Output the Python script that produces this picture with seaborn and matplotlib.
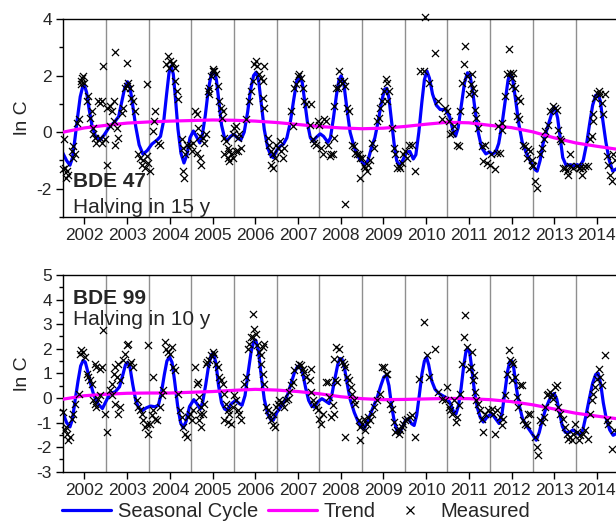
import matplotlib
matplotlib.use("Agg")
import matplotlib.pyplot as plt
from matplotlib.lines import Line2D
from matplotlib.ticker import MultipleLocator
import numpy as np
import pandas as pd
import seaborn as sns

# ---------------------------------------------------------------- data
years = [2002, 2003, 2004, 2005, 2006, 2007, 2008, 2009, 2010, 2011, 2012, 2013, 2014]
year_labels = [str(y) for y in years]

# BDE 47 : fitted seasonal cycle (time in decimal years, ln C)
season47_t = [2001.49, 2001.58, 2001.66, 2001.72, 2001.78, 2001.84, 2001.90, 2001.96, 2002.00, 2002.05,
              2002.11, 2002.18, 2002.26, 2002.36, 2002.46, 2002.58, 2002.70, 2002.80, 2002.87, 2002.94,
              2003.01, 2003.07, 2003.13, 2003.20, 2003.28, 2003.37, 2003.47, 2003.58, 2003.70, 2003.78,
              2003.86, 2003.92, 2003.98, 2004.03, 2004.08, 2004.13, 2004.19, 2004.26, 2004.33, 2004.40,
              2004.47, 2004.55, 2004.62, 2004.70, 2004.76, 2004.83, 2004.90, 2004.97, 2005.03, 2005.09,
              2005.15, 2005.21, 2005.28, 2005.34, 2005.42, 2005.50, 2005.58, 2005.66, 2005.74, 2005.82,
              2005.89, 2005.96, 2006.02, 2006.08, 2006.14, 2006.21, 2006.29, 2006.37, 2006.42, 2006.50,
              2006.58, 2006.66, 2006.74, 2006.82, 2006.90, 2006.97, 2007.04, 2007.10, 2007.16, 2007.23,
              2007.29, 2007.35, 2007.43, 2007.52, 2007.60, 2007.70, 2007.76, 2007.83, 2007.90, 2007.96,
              2008.01, 2008.07, 2008.14, 2008.22, 2008.32, 2008.44, 2008.56, 2008.64, 2008.72, 2008.80,
              2008.88, 2008.96, 2009.03, 2009.08, 2009.13, 2009.19, 2009.25, 2009.31, 2009.37, 2009.45,
              2009.55, 2009.62, 2009.70, 2009.76, 2009.83, 2009.90, 2009.96, 2010.02, 2010.08, 2010.15,
              2010.24, 2010.33, 2010.45, 2010.55, 2010.63, 2010.69, 2010.75, 2010.82, 2010.90, 2010.97,
              2011.03, 2011.09, 2011.15, 2011.22, 2011.30, 2011.40, 2011.48, 2011.55, 2011.63, 2011.70,
              2011.78, 2011.86, 2011.92, 2011.97, 2012.03, 2012.10, 2012.17, 2012.25, 2012.35, 2012.45,
              2012.55, 2012.60, 2012.67, 2012.74, 2012.82, 2012.90, 2012.97, 2013.02, 2013.08, 2013.14,
              2013.20, 2013.28, 2013.38, 2013.46, 2013.54, 2013.60, 2013.68, 2013.76, 2013.83, 2013.90,
              2013.97, 2014.03, 2014.08, 2014.14, 2014.21, 2014.29, 2014.37, 2014.45]
season47_v = [-0.73, -1.00, -1.17, -0.90, -0.20, 0.55, 1.25, 1.62, 1.65, 1.40,
              0.80, 0.20, -0.15, -0.28, -0.10, 0.18, 0.35, 0.55, 1.05, 1.55,
              1.78, 1.55, 0.95, 0.20, -0.45, -0.78, -0.65, -0.42, -0.28, -0.15,
              0.45, 1.30, 2.10, 2.34, 2.05, 1.20, 0.10, -0.75, -1.09, -0.80,
              -0.20, 0.04, -0.15, -0.38, -0.10, 0.60, 1.50, 2.05, 2.18, 1.85,
              1.05, 0.25, -0.20, -0.30, -0.15, -0.08, -0.20, -0.28, 0.00, 0.70,
              1.50, 2.00, 2.12, 1.80, 1.00, 0.10, -0.55, -0.85, -0.90, -0.65,
              -0.50, -0.42, -0.20, 0.35, 1.15, 1.80, 2.00, 1.75, 1.05, 0.25,
              -0.20, -0.32, -0.18, -0.06, -0.15, -0.36, -0.20, 0.50, 1.30, 1.85,
              1.99, 1.75, 0.90, 0.00, -0.55, -0.95, -1.15, -1.00, -0.55, -0.20,
              0.40, 1.10, 1.52, 1.55, 1.20, 0.40, -0.40, -1.00, -1.20, -1.00,
              -0.70, -0.68, -0.95, -0.80, 0.00, 1.05, 1.85, 2.16, 1.90, 1.35,
              0.95, 0.80, 0.80, 0.55, 0.05, -0.14, 0.15, 0.90, 1.75, 2.10,
              2.00, 1.45, 0.75, 0.00, -0.55, -0.77, -0.70, -0.78, -0.70, -0.40,
              0.30, 1.20, 1.85, 2.07, 1.85, 1.10, 0.30, -0.35, -0.75, -1.05,
              -1.32, -1.38, -1.00, -0.40, 0.05, 0.45, 0.80, 0.86, 0.50, -0.20,
              -0.90, -1.18, -1.15, -1.20, -1.15, -1.20, -1.00, -0.40, 0.30, 0.95,
              1.30, 1.34, 1.10, 0.40, -0.35, -1.00, -1.38, -1.30]

trend_t = [2001.5, 2002.0, 2002.5, 2003.0, 2003.5, 2004.0, 2004.5, 2005.0, 2005.5, 2006.0,
           2006.5, 2007.0, 2007.5, 2008.0, 2008.5, 2009.0, 2009.5, 2010.0, 2010.5, 2011.0,
           2011.5, 2012.0, 2012.5, 2013.0, 2013.5, 2014.0, 2014.45]
trend47_v = [0.00, 0.15, 0.24, 0.32, 0.36, 0.39, 0.41, 0.43, 0.42, 0.39,
             0.34, 0.27, 0.20, 0.15, 0.12, 0.14, 0.20, 0.28, 0.35, 0.33,
             0.24, 0.16, 0.01, -0.20, -0.38, -0.50, -0.60]

meas47 = [
    (2001.52, -0.26), (2001.54, -1.26), (2001.58, -1.38), (2001.62, -1.50), (2001.57, -1.62),
    (2001.50, -1.32), (2001.70, -0.67), (2001.74, -0.50), (2001.78, -0.79), (2001.72, -0.91),
    (2001.82, 0.33), (2001.86, 0.45), (2001.91, 1.81), (2001.94, 1.93), (2001.97, 1.99),
    (2001.99, 1.75), (2001.93, 1.69), (2002.09, 1.28), (2002.05, 1.10), (2002.17, 0.74),
    (2002.13, 0.51), (2002.21, 0.15), (2002.25, -0.20), (2002.28, -0.38), (2002.21, -0.08),
    (2002.32, 1.10), (2002.36, 1.04), (2002.40, 1.10), (2002.44, 2.34), (2002.40, -0.38),
    (2002.36, -0.20), (2002.48, -0.26), (2002.52, -1.15), (2002.52, 0.86), (2002.60, 0.92),
    (2002.64, 0.74), (2002.68, 1.10), (2002.71, 2.85), (2002.60, 0.21), (2002.68, 0.39),
    (2002.75, 0.15), (2002.79, -0.20), (2002.71, -0.44), (2002.87, 0.69), (2002.91, 0.86),
    (2002.95, 1.57), (2002.99, 1.63), (2003.03, 1.75), (2003.07, 1.57), (2002.99, 2.46),
    (2003.10, 1.22), (2003.14, 1.10), (2003.18, 0.74), (2003.26, -0.79), (2003.30, -0.91),
    (2003.38, -0.97), (2003.34, -1.15), (2003.42, -1.26), (2003.46, -0.85), (2003.53, -1.38),
    (2003.49, -1.09), (2003.47, 1.69), (2003.63, 0.39), (2003.65, 0.74), (2003.61, 0.04),
    (2003.73, -0.38), (2003.77, -0.44), (2003.96, 2.70), (2004.00, 2.52), (2004.04, 2.40),
    (2004.08, 2.46), (2003.92, 2.40), (2003.99, 2.28), (2004.12, 2.28), (2004.12, 1.81),
    (2004.16, 1.45), (2004.20, 1.16), (2004.28, -0.26), (2004.31, -0.56), (2004.35, -0.79),
    (2004.39, -0.44), (2004.33, -1.62), (2004.30, -1.38), (2004.47, -0.44), (2004.51, -0.67),
    (2004.55, -0.38), (2004.59, 0.74), (2004.63, 0.63), (2004.67, 0.15), (2004.70, -0.91),
    (2004.64, -0.73), (2004.74, -1.15), (2004.70, -0.14), (2004.77, -0.20), (2004.81, -0.38),
    (2004.85, -0.08), (2004.89, 1.45), (2004.92, 1.57), (2004.96, 1.99), (2005.00, 2.16),
    (2005.04, 2.16), (2005.08, 2.04), (2005.02, 2.22), (2005.12, 1.63), (2004.92, 1.34),
    (2005.16, 1.10), (2005.20, 0.86), (2005.24, 0.74), (2005.22, 0.51), (2005.27, -0.20),
    (2005.31, -0.32), (2005.35, -0.56), (2005.39, -0.67), (2005.43, -0.79), (2005.47, -0.91),
    (2005.27, -0.79), (2005.35, -0.91), (2005.39, -1.03), (2005.55, -0.67), (2005.51, 0.15),
    (2005.47, -0.08), (2005.55, 0.21), (2005.59, -0.20), (2005.63, -0.08), (2005.59, -0.67),
    (2005.67, -0.56), (2005.78, 0.45), (2005.86, 1.10), (2005.90, 1.45), (2005.94, 1.81),
    (2005.98, 2.40), (2006.02, 2.52), (2006.05, 2.34), (2006.09, 2.04), (2006.13, 1.93),
    (2006.17, 1.81), (2006.21, 2.34), (2006.17, 1.22), (2006.21, 0.86), (2006.29, -0.20),
    (2006.33, -0.44), (2006.37, -0.67), (2006.41, -0.79), (2006.45, -0.91), (2006.41, -1.26),
    (2006.37, -1.15), (2006.49, -0.44), (2006.53, -0.56), (2006.57, -0.32), (2006.60, -0.67),
    (2006.64, -0.91), (2006.68, -0.56), (2006.84, 0.74), (2006.88, 0.21), (2006.91, 1.57),
    (2006.95, 1.69), (2006.99, 1.99), (2007.03, 2.04), (2007.07, 1.93), (2007.11, 1.57),
    (2007.15, 1.10), (2007.19, 0.98), (2007.30, 0.98), (2007.27, 0.27), (2007.34, -0.26),
    (2007.38, -0.38), (2007.42, -0.44), (2007.46, 0.39), (2007.50, 0.27), (2007.54, -0.56),
    (2007.58, -0.79), (2007.62, 0.45), (2007.66, 0.39), (2007.70, -0.44), (2007.74, -0.85),
    (2007.77, -0.79), (2007.81, -0.79), (2007.85, 0.92), (2007.89, 1.57), (2007.84, -0.20),
    (2007.95, 2.16), (2007.99, 1.81), (2008.03, 1.75), (2008.07, 1.81), (2008.11, 1.63),
    (2007.94, 1.57), (2008.15, 0.86), (2008.19, 0.74), (2008.26, -0.44), (2008.30, -0.50),
    (2008.34, -0.73), (2008.38, -0.79), (2008.42, -0.79), (2008.46, -0.91), (2008.50, -0.91),
    (2008.54, -1.21), (2008.58, -1.26), (2008.62, -1.38), (2008.65, -1.15), (2008.69, -0.97),
    (2008.73, -0.38), (2008.77, -0.56), (2008.46, -1.62), (2008.11, -2.54), (2008.85, 0.39),
    (2008.89, 0.51), (2008.93, 0.86), (2008.97, 1.10), (2009.01, 1.45), (2009.05, 1.87),
    (2009.09, 1.75), (2009.13, 1.45), (2009.09, 1.10), (2009.20, 0.15), (2009.24, -0.56),
    (2009.28, -0.79), (2009.32, -1.26), (2009.36, -1.21), (2009.40, -1.26), (2009.44, -1.09),
    (2009.47, -0.79), (2009.51, -0.67), (2009.55, -0.91), (2009.59, -0.44), (2009.67, -0.44),
    (2009.75, -1.38), (2009.86, 2.16), (2009.94, 2.16), (2009.97, 4.08), (2010.06, 1.75),
    (2010.22, 2.81), (2010.29, 1.10), (2010.37, 0.45), (2010.45, 0.86), (2010.49, 0.74),
    (2010.53, 0.39), (2010.57, -0.08), (2010.61, -0.02), (2010.65, 0.21), (2010.72, -0.44),
    (2010.76, -0.50), (2010.80, 0.74), (2010.84, 1.75), (2010.88, 2.40), (2010.92, 3.05),
    (2010.96, 1.99), (2011.00, 1.34), (2011.04, 1.69), (2011.09, 1.57), (2011.07, 2.04),
    (2011.11, 1.39), (2011.15, 0.80), (2011.18, 0.51), (2011.22, 0.15), (2011.30, -0.50),
    (2011.38, -0.44), (2011.34, -1.03), (2011.42, -1.09), (2011.50, -1.15), (2011.61, -1.32),
    (2011.53, -0.79), (2011.65, -0.73), (2011.73, -0.73), (2011.69, 0.21), (2011.77, 0.33),
    (2011.77, 0.09), (2011.85, 1.28), (2011.89, 2.04), (2011.93, 2.93), (2011.96, 2.10),
    (2012.00, 1.93), (2012.04, 2.10), (2012.00, 1.63), (2012.08, 1.57), (2012.16, 1.22),
    (2012.20, 1.10), (2012.12, 0.57), (2012.18, 0.45), (2012.28, -0.44), (2012.32, -0.50),
    (2012.36, -0.91), (2012.39, -0.61), (2012.43, -0.67), (2012.47, -0.97), (2012.51, -1.21),
    (2012.55, -1.74), (2012.59, -1.97), (2012.47, -1.15), (2012.67, -0.79), (2012.71, -0.56),
    (2012.75, -0.26), (2012.79, 0.04), (2012.86, 0.27), (2012.90, 0.74), (2012.98, 0.92),
    (2013.02, 0.86), (2013.06, 0.80), (2013.10, 0.09), (2013.14, -0.26), (2013.17, -0.32),
    (2013.21, -1.26), (2013.25, -1.26), (2013.29, -1.38), (2013.33, -1.50), (2013.37, -1.21),
    (2013.37, -0.79), (2013.45, -1.26), (2013.53, -1.21), (2013.61, -1.26), (2013.68, -1.26),
    (2013.72, -1.21), (2013.64, -1.50), (2013.80, -1.21), (2013.57, -1.26), (2013.84, -0.26),
    (2013.88, -0.14), (2013.92, 0.39), (2013.92, 0.63), (2013.96, 1.22), (2014.00, 1.39),
    (2014.04, 1.45), (2014.07, 1.34), (2014.11, 1.04), (2014.15, 0.63), (2014.19, 1.34),
    (2014.23, -0.85), (2014.27, -1.15), (2014.31, -1.50), (2014.35, -1.74), (2014.37, -0.79),
    (2014.42, -0.97),
]

# BDE 99 : fitted seasonal cycle
season99_t = [2001.49, 2001.58, 2001.66, 2001.72, 2001.78, 2001.85, 2001.91, 2001.97, 2002.02, 2002.08,
              2002.14, 2002.22, 2002.32, 2002.42, 2002.50, 2002.60, 2002.72, 2002.82, 2002.90, 2002.96,
              2003.01, 2003.07, 2003.13, 2003.20, 2003.27, 2003.35, 2003.45, 2003.55, 2003.65, 2003.73,
              2003.80, 2003.87, 2003.93, 2003.99, 2004.05, 2004.11, 2004.18, 2004.25, 2004.31, 2004.38,
              2004.46, 2004.56, 2004.64, 2004.71, 2004.77, 2004.84, 2004.91, 2004.97, 2005.02, 2005.08,
              2005.14, 2005.21, 2005.28, 2005.34, 2005.43, 2005.54, 2005.62, 2005.69, 2005.76, 2005.83,
              2005.90, 2005.96, 2006.01, 2006.07, 2006.14, 2006.21, 2006.29, 2006.36, 2006.42, 2006.50,
              2006.60, 2006.68, 2006.76, 2006.84, 2006.92, 2006.99, 2007.05, 2007.11, 2007.18, 2007.25,
              2007.32, 2007.38, 2007.47, 2007.56, 2007.64, 2007.73, 2007.79, 2007.86, 2007.93, 2007.98,
              2008.03, 2008.09, 2008.15, 2008.22, 2008.32, 2008.43, 2008.54, 2008.62, 2008.70, 2008.78,
              2008.86, 2008.94, 2009.01, 2009.07, 2009.13, 2009.19, 2009.25, 2009.31, 2009.36, 2009.43,
              2009.52, 2009.59, 2009.66, 2009.72, 2009.78, 2009.84, 2009.90, 2009.96, 2010.01, 2010.06,
              2010.13, 2010.21, 2010.30, 2010.40, 2010.48, 2010.56, 2010.64, 2010.70, 2010.76, 2010.82,
              2010.88, 2010.93, 2010.97, 2011.02, 2011.07, 2011.13, 2011.20, 2011.27, 2011.34, 2011.44,
              2011.54, 2011.63, 2011.71, 2011.78, 2011.85, 2011.91, 2011.96, 2012.00, 2012.05, 2012.11,
              2012.18, 2012.26, 2012.36, 2012.48, 2012.58, 2012.65, 2012.72, 2012.80, 2012.88, 2012.95,
              2013.00, 2013.06, 2013.12, 2013.19, 2013.26, 2013.36, 2013.44, 2013.52, 2013.60, 2013.67,
              2013.74, 2013.82, 2013.90, 2013.97, 2014.03, 2014.09, 2014.15, 2014.22, 2014.30, 2014.38,
              2014.45]
season99_v = [-0.57, -1.00, -1.18, -0.85, -0.10, 0.70, 1.30, 1.53, 1.45, 1.05,
              0.60, 0.10, -0.25, -0.43, -0.15, 0.18, 0.25, 0.45, 0.95, 1.35,
              1.45, 1.20, 0.55, -0.10, -0.40, -0.52, -0.40, -0.33, -0.36, -0.30,
              0.20, 0.95, 1.50, 1.67, 1.45, 0.70, -0.30, -1.00, -1.22, -0.95,
              -0.35, -0.07, -0.25, -0.46, -0.15, 0.55, 1.35, 1.75, 1.82, 1.40,
              0.50, -0.20, -0.45, -0.50, -0.25, -0.10, -0.22, -0.30, 0.10, 1.00,
              1.85, 2.28, 2.35, 1.95, 0.90, -0.05, -0.65, -0.88, -0.91, -0.60,
              -0.35, -0.16, 0.15, 0.60, 1.05, 1.28, 1.30, 1.00, 0.40, -0.10,
              -0.33, -0.37, -0.15, -0.03, -0.12, -0.23, 0.10, 0.75, 1.35, 1.60,
              1.58, 1.20, 0.60, -0.05, -0.60, -1.05, -1.27, -1.00, -0.64, -0.30,
              0.05, 0.50, 0.85, 0.92, 0.50, -0.30, -0.90, -1.30, -1.45, -1.25,
              -0.90, -0.85, -1.05, -1.12, -0.70, 0.10, 0.95, 1.50, 1.65, 1.35,
              0.70, 0.35, 0.18, 0.08, 0.00, -0.20, -0.55, -0.65, -0.30, 0.40,
              1.30, 1.85, 2.02, 1.85, 1.20, 0.30, -0.40, -0.80, -0.98, -0.75,
              -0.64, -0.85, -1.04, -0.60, 0.30, 1.10, 1.48, 1.52, 1.25, 0.45,
              -0.30, -0.85, -1.15, -1.45, -1.72, -1.40, -0.90, -0.45, -0.10, 0.12,
              0.18, -0.05, -0.55, -1.15, -1.40, -1.40, -1.30, -1.40, -1.50, -1.30,
              -0.75, -0.05, 0.60, 0.95, 1.00, 0.55, -0.20, -0.85, -1.30, -1.52,
              -1.45]

trend99_v = [-0.05, 0.09, 0.15, 0.19, 0.20, 0.20, 0.23, 0.26, 0.31, 0.35,
             0.32, 0.26, 0.17, 0.05, -0.03, -0.07, -0.06, -0.04, -0.02, -0.03,
             -0.07, -0.15, -0.28, -0.45, -0.62, -0.74, -0.84]

meas99 = [
    (2001.50, -0.57), (2001.54, -1.31), (2001.58, -1.45), (2001.62, -1.72), (2001.66, -1.59),
    (2001.57, -1.18), (2001.70, -0.84), (2001.74, -0.64), (2001.78, -0.23), (2001.86, 0.18),
    (2001.89, 1.80), (2001.93, 1.94), (2001.97, 1.87), (2002.01, 1.67), (2002.05, 0.99),
    (2002.09, 0.85), (2002.13, 0.72), (2002.17, 0.58), (2002.25, 1.40), (2002.28, 1.26),
    (2002.36, 1.19), (2002.40, 1.26), (2002.25, -0.23), (2002.28, -0.37), (2002.21, -0.09),
    (2002.32, -0.03), (2002.36, 0.11), (2002.44, 2.75), (2002.52, -1.38), (2002.48, -0.64),
    (2002.60, 0.31), (2002.64, 0.58), (2002.68, 0.99), (2002.71, 1.26), (2002.75, 0.85),
    (2002.79, 1.40), (2002.83, 0.72), (2002.64, 0.11), (2002.71, -0.23), (2002.79, -0.64),
    (2002.83, -0.37), (2002.91, 1.53), (2002.95, 1.80), (2002.99, 2.14), (2003.03, 2.21),
    (2003.07, 1.40), (2003.10, 1.46), (2003.14, 1.26), (2003.22, -0.09), (2003.26, -0.37),
    (2003.30, -0.50), (2003.34, -0.64), (2003.38, -0.91), (2003.42, -1.18), (2003.46, -1.04),
    (2003.49, -1.45), (2003.53, -1.04), (2003.57, -0.70), (2003.61, -0.50), (2003.65, -0.84),
    (2003.69, -0.91), (2003.49, 2.14), (2003.61, 0.85), (2003.77, -0.37), (2003.81, 0.11),
    (2003.85, 0.31), (2003.89, 2.28), (2003.92, 2.01), (2003.96, 1.87), (2004.00, 1.80),
    (2004.04, 2.07), (2004.08, 1.26), (2004.12, 1.12), (2004.20, 0.18), (2004.24, -0.50),
    (2004.28, -0.77), (2004.31, -1.18), (2004.35, -1.45), (2004.39, -1.59), (2004.43, -0.77),
    (2004.47, -0.64), (2004.51, -0.91), (2004.55, -0.50), (2004.59, 1.26), (2004.63, 0.58),
    (2004.67, 0.65), (2004.70, -0.64), (2004.69, 0.04), (2004.73, -0.37), (2004.77, -0.64),
    (2004.69, -0.91), (2004.73, -1.18), (2004.81, -0.23), (2004.85, 1.40), (2004.88, 1.46),
    (2004.92, 1.53), (2004.96, 1.73), (2005.00, 1.87), (2005.04, 1.80), (2005.08, 1.40),
    (2005.12, 1.26), (2005.16, 0.85), (2005.20, 0.72), (2005.24, 0.58), (2005.27, 0.18),
    (2005.31, -0.23), (2005.35, -0.50), (2005.39, -0.64), (2005.27, -0.91), (2005.35, -0.98),
    (2005.43, -1.04), (2005.47, -0.37), (2005.51, 0.11), (2005.55, -0.09), (2005.59, -0.50),
    (2005.63, -0.64), (2005.67, -0.91), (2005.74, 0.58), (2005.78, 0.85), (2005.82, 2.01),
    (2005.86, 2.21), (2005.90, 2.48), (2005.94, 2.48), (2005.98, 2.82), (2005.95, 3.43),
    (2006.02, 2.62), (2006.05, 2.14), (2006.09, 1.87), (2006.13, 1.73), (2006.17, 2.07),
    (2006.21, 2.21), (2006.13, 1.40), (2006.17, 0.99), (2006.21, 0.58), (2006.25, -0.37),
    (2006.29, -0.50), (2006.33, -0.70), (2006.37, -0.91), (2006.41, -1.11), (2006.45, -1.18),
    (2006.41, -0.64), (2006.49, -0.37), (2006.53, -0.23), (2006.56, -0.09), (2006.60, -0.16),
    (2006.68, -0.37), (2006.72, -0.09), (2006.76, -0.03), (2006.80, 0.24), (2006.84, 0.51),
    (2006.88, 0.65), (2006.91, 1.12), (2006.99, 1.26), (2007.03, 1.40), (2007.07, 1.33),
    (2007.11, 1.19), (2007.15, 1.06), (2007.19, 0.85), (2007.30, 1.19), (2007.27, 0.72),
    (2007.30, 0.24), (2007.34, -0.09), (2007.38, -0.23), (2007.42, -0.37), (2007.46, -0.50),
    (2007.50, -0.84), (2007.54, -1.04), (2007.58, -0.64), (2007.66, 0.65), (2007.70, 0.65),
    (2007.73, 0.04), (2007.77, -0.77), (2007.81, -0.30), (2007.85, 1.60), (2007.89, 2.07),
    (2007.84, -0.64), (2007.87, 0.72), (2007.91, 0.65), (2007.95, 2.01), (2007.99, 1.60),
    (2008.03, 1.46), (2008.07, 1.40), (2008.11, 1.26), (2008.15, 0.85), (2008.19, 0.72),
    (2008.23, 0.45), (2008.26, 0.18), (2008.30, -0.09), (2008.11, -1.59), (2008.34, -0.23),
    (2008.42, -0.91), (2008.46, -1.18), (2008.50, -1.04), (2008.54, -0.84), (2008.58, -1.31),
    (2008.62, -1.04), (2008.65, -0.77), (2008.69, -0.91), (2008.46, -1.72), (2008.73, -0.64),
    (2008.77, -0.37), (2008.85, -0.09), (2008.93, 0.18), (2008.97, 1.26), (2009.01, 1.26),
    (2009.05, 0.99), (2009.09, 0.99), (2009.16, -0.23), (2009.20, -0.43), (2009.24, -0.98),
    (2009.28, -1.38), (2009.32, -1.31), (2009.36, -1.45), (2009.40, -1.31), (2009.44, -1.18),
    (2009.47, -1.04), (2009.51, -0.91), (2009.55, -0.84), (2009.63, -0.77), (2009.67, -0.70),
    (2009.75, -1.59), (2009.83, 0.79), (2009.94, 3.09), (2010.02, 1.73), (2010.06, 0.85),
    (2010.22, 2.01), (2010.29, 0.24), (2010.37, -0.03), (2010.45, -0.09), (2010.49, 0.45),
    (2010.53, -0.37), (2010.57, -0.50), (2010.61, -0.64), (2010.65, -0.09), (2010.69, -0.98),
    (2010.72, -0.77), (2010.76, -0.30), (2010.80, 0.18), (2010.84, 1.40), (2010.88, 2.48),
    (2010.92, 3.36), (2010.96, 2.07), (2011.00, 1.19), (2011.04, 1.26), (2011.09, 0.72),
    (2011.07, 1.87), (2011.11, 0.92), (2011.15, 0.24), (2011.18, -0.09), (2011.22, -0.23),
    (2011.26, -0.50), (2011.30, -0.84), (2011.34, -1.38), (2011.38, -0.64), (2011.46, -0.50),
    (2011.54, -0.43), (2011.57, -0.64), (2011.61, -1.45), (2011.65, -0.50), (2011.73, -0.77),
    (2011.77, -1.11), (2011.81, -0.84), (2011.85, 0.11), (2011.89, 0.99), (2011.93, 1.94),
    (2011.96, 1.53), (2012.00, 1.46), (2012.04, 1.40), (2012.00, 0.72), (2012.08, 0.85),
    (2012.12, 0.04), (2012.16, -0.37), (2012.20, 0.51), (2012.24, 0.51), (2012.28, -0.91),
    (2012.32, -1.04), (2012.36, -1.11), (2012.39, -0.64), (2012.43, -0.64), (2012.55, -1.59),
    (2012.59, -1.99), (2012.63, -2.33), (2012.67, -0.91), (2012.71, -0.98), (2012.75, -0.77),
    (2012.78, -0.37), (2012.82, 0.11), (2012.86, 0.18), (2012.90, 0.24), (2012.94, 0.11),
    (2012.98, -0.03), (2013.02, 0.45), (2013.06, 0.51), (2013.10, -0.37), (2013.14, -0.64),
    (2013.21, -0.84), (2013.25, -1.18), (2013.29, -1.45), (2013.33, -1.65), (2013.37, -1.59),
    (2013.41, -1.72), (2013.45, -1.45), (2013.53, -1.38), (2013.57, -1.72), (2013.61, -1.52),
    (2013.68, -1.45), (2013.72, -1.31), (2013.80, -1.65), (2013.49, -1.04), (2013.84, -0.64),
    (2013.88, -0.09), (2013.92, 0.18), (2013.96, 0.45), (2014.00, 0.79), (2014.04, 1.19),
    (2014.07, 0.85), (2014.11, 0.51), (2014.19, 1.73), (2014.23, -0.91), (2014.27, -1.04),
    (2014.35, -2.06), (2014.39, -1.31),
]

panels = [
    dict(name="BDE 47", note="Halving in 15 y", season_t=season47_t, season_v=season47_v,
         trend_v=trend47_v, meas=meas47, ylim=(-3, 4), major=2, minor=1,
         text_y=(0.152, 0.022)),
    dict(name="BDE 99", note="Halving in 10 y", season_t=season99_t, season_v=season99_v,
         trend_v=trend99_v, meas=meas99, ylim=(-3, 5), major=1, minor=0.5,
         text_y=(0.853, 0.748)),
]

# ---------------------------------------------------------------- style
sns.set_style("ticks")
plt.rcParams["font.family"] = ["Liberation Sans", "DejaVu Sans"]
plt.rcParams["axes.unicode_minus"] = False

BLUE = "#0000ff"
MAGENTA = "#ff00ff"
GRID = "#8f8f8f"
LW = 2.3

W, H = 616, 522
fig = plt.figure(figsize=(W / 100, H / 100), dpi=100)
ax_top = fig.add_axes([63 / W, 1 - 217 / H, 553 / W, 198 / H])
ax_bot = fig.add_axes([63 / W, 1 - 471.7 / H, 553 / W, 196.7 / H])

for ax, p in zip([ax_top, ax_bot], panels):
    for y in years[:-1]:
        ax.axvline(y + 0.5, color=GRID, lw=1.0, zorder=0)

    season = pd.DataFrame({"t": p["season_t"], "v": p["season_v"]})
    trend = pd.DataFrame({"t": trend_t, "v": p["trend_v"]})
    meas = pd.DataFrame(p["meas"], columns=["t", "v"])

    sns.lineplot(data=season, x="t", y="v", ax=ax, color=BLUE, lw=LW,
                 estimator=None, sort=False, zorder=2, solid_joinstyle="round")
    sns.lineplot(data=trend, x="t", y="v", ax=ax, color=MAGENTA, lw=LW,
                 estimator=None, sort=False, zorder=3)
    sns.scatterplot(data=meas, x="t", y="v", ax=ax, marker="x", color="black",
                    s=26, linewidth=0.9, zorder=4, clip_on=False)

    ax.set_xlim(2001.497, 2014.447)
    ax.set_ylim(*p["ylim"])
    ax.set_xticks(years)
    ax.set_xticklabels(year_labels)
    ax.yaxis.set_major_locator(MultipleLocator(p["major"]))
    ax.yaxis.set_minor_locator(MultipleLocator(p["minor"]))
    ax.tick_params(axis="both", which="major", direction="out", length=5, width=1,
                   labelsize=12.5, pad=3, color="black")
    ax.tick_params(axis="y", which="minor", direction="out", length=3, width=1, color="black")
    ax.set_xlabel("")
    ax.set_ylabel("ln C", fontsize=14, labelpad=4)
    for side in ["left", "top", "bottom"]:
        ax.spines[side].set_visible(True)
        ax.spines[side].set_color("black")
        ax.spines[side].set_linewidth(1.0)
    ax.spines["right"].set_visible(False)

    ax.text(0.018, p["text_y"][0], p["name"], transform=ax.transAxes,
            fontsize=15, fontweight="bold", va="baseline", ha="left")
    ax.text(0.018, p["text_y"][1], p["note"], transform=ax.transAxes,
            fontsize=15, va="baseline", ha="left")

ax_top.set_yticks([-2, 0, 2, 4])
ax_top.yaxis.set_minor_locator(MultipleLocator(1))

handles = [
    Line2D([], [], color=BLUE, lw=LW),
    Line2D([], [], color=MAGENTA, lw=LW),
    Line2D([], [], color="black", marker="x", ls="", markersize=5.5, markeredgewidth=0.9),
]
fig.legend(handles, ["Seasonal Cycle", "Trend", "Measured"], loc="center",
           bbox_to_anchor=(0.481, 0.02), ncol=3, frameon=False, fontsize=14.5,
           handlelength=2.45, handletextpad=0.3, columnspacing=0.5, borderpad=0.0)

fig.savefig("out.png", dpi=100)
